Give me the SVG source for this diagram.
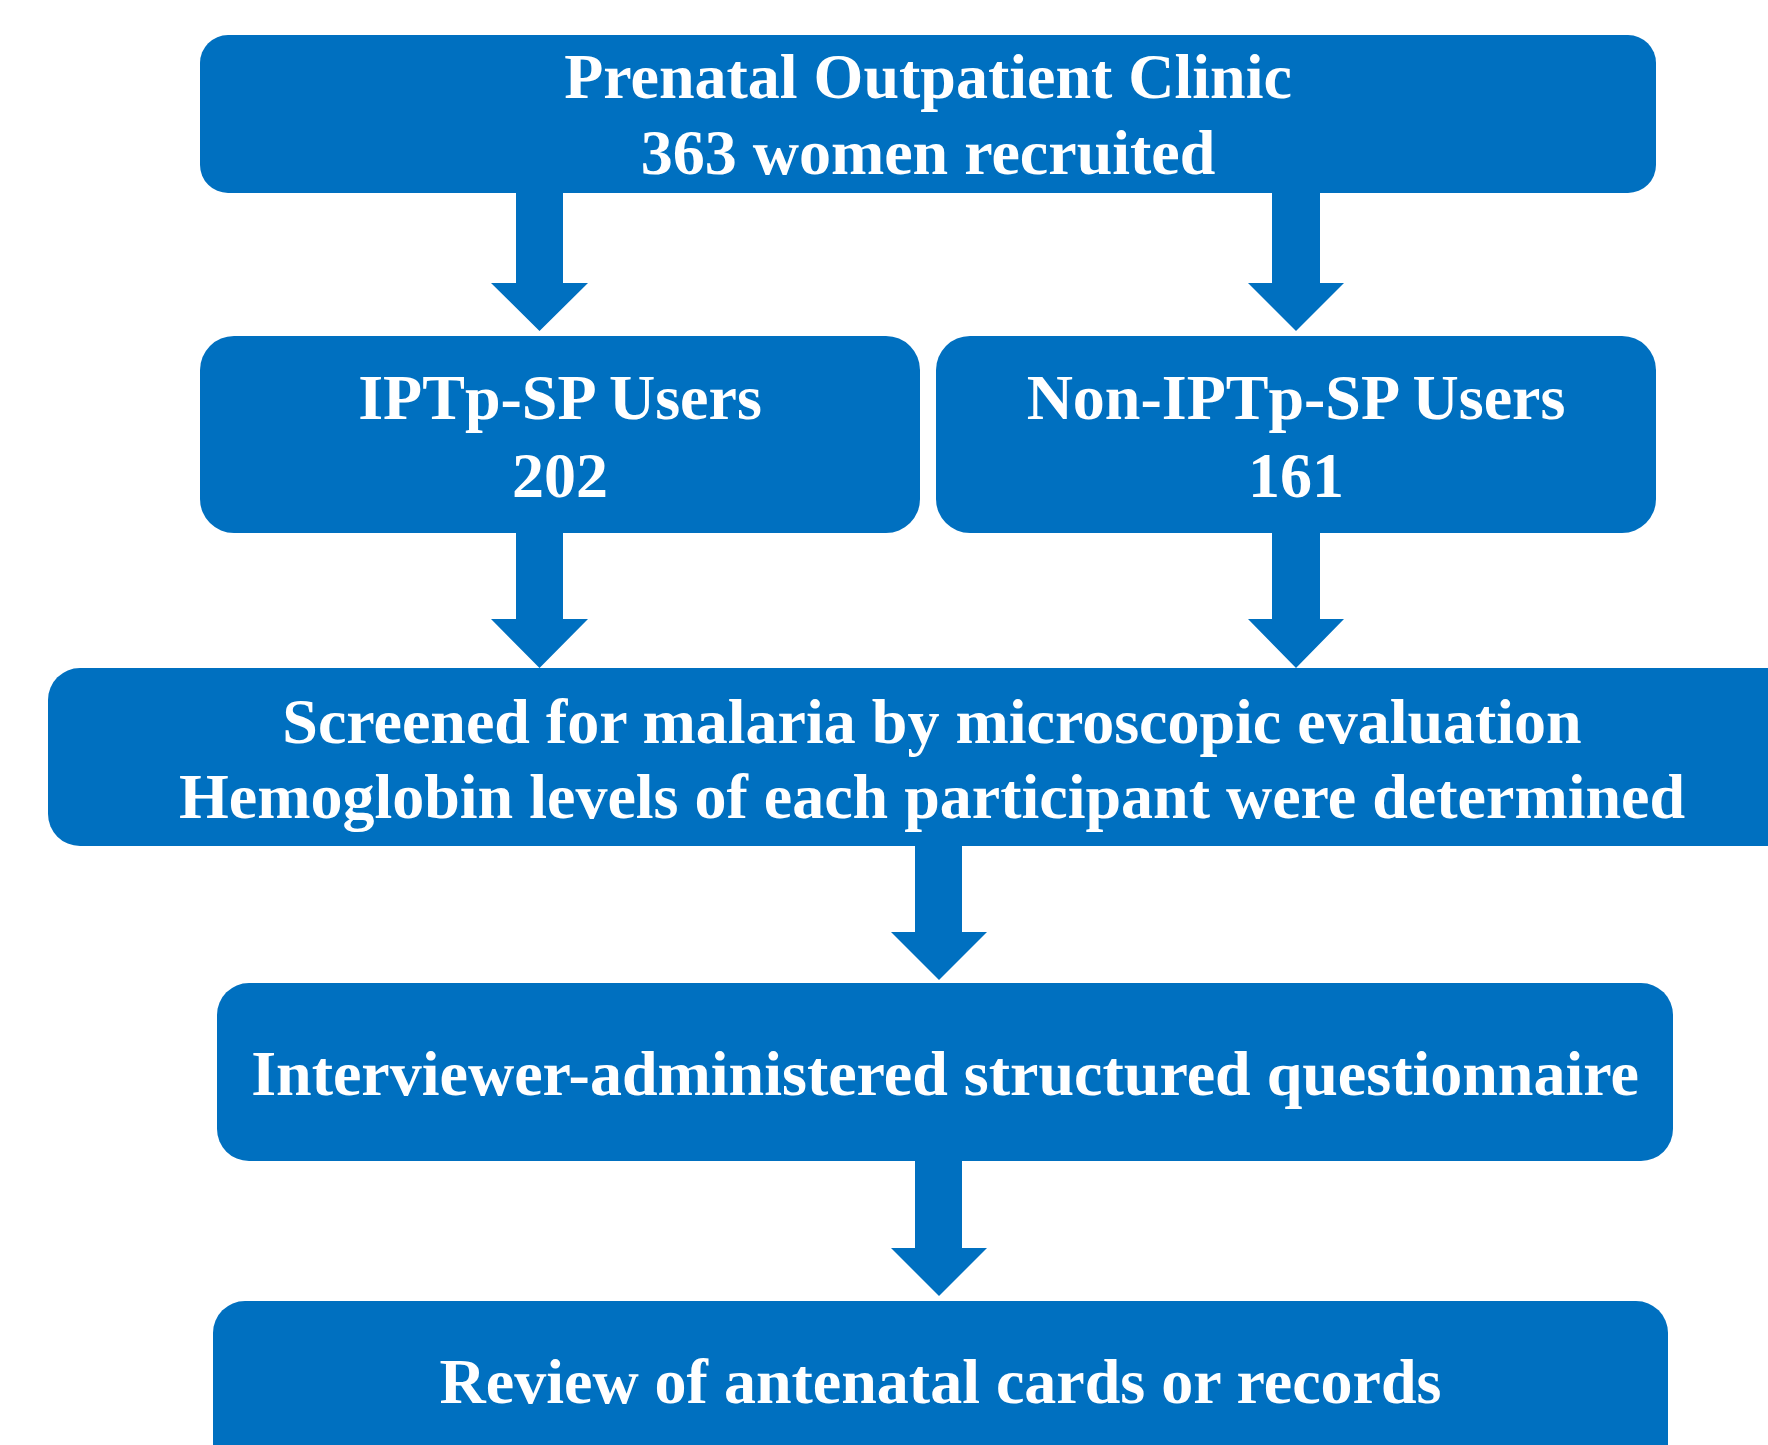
<svg xmlns="http://www.w3.org/2000/svg" width="1768" height="1445" viewBox="0 0 1768 1445">
<style>
.box{fill:#0070C0}
.arrow{fill:#0070C0}
.t{font-family:"Liberation Serif","Times New Roman",serif;font-weight:bold;font-size:64px;fill:#FFFFFF;text-anchor:middle}
</style>
<rect width="1768" height="1445" fill="#FFFFFF"/>
<g id="connectors">
<path class="arrow" d="M516,193 H563 V283 H588 L539.5,331 L491,283 H516 Z"/>
<path class="arrow" d="M1272,193 H1320 V283 H1344 L1296,331 L1248,283 H1272 Z"/>
<path class="arrow" d="M516,533 H563 V619 H588 L539.5,668 L491,619 H516 Z"/>
<path class="arrow" d="M1272,533 H1320 V619 H1344 L1296,668 L1248,619 H1272 Z"/>
<path class="arrow" d="M915,846 H962 V932 H987 L939,980 L891,932 H915 Z"/>
<path class="arrow" d="M915,1161 H962 V1248 H987 L939,1296 L891,1248 H915 Z"/>
</g>
<g id="node-clinic">
<rect class="box" x="200" y="35" width="1456" height="158" rx="28" ry="28"/>
<text class="t" x="928" y="98">Prenatal Outpatient Clinic</text>
<text class="t" x="928" y="174">363 women recruited</text>
</g>
<g id="node-iptp">
<rect class="box" x="200" y="336" width="720" height="197" rx="34" ry="34"/>
<text class="t" x="560" y="419">IPTp-SP Users</text>
<text class="t" x="560" y="497">202</text>
</g>
<g id="node-non-iptp">
<rect class="box" x="936" y="336" width="720" height="197" rx="34" ry="34"/>
<text class="t" x="1296" y="419">Non-IPTp-SP Users</text>
<text class="t" x="1296" y="497">161</text>
</g>
<g id="node-screened">
<rect class="box" x="48" y="668" width="1768" height="178" rx="32" ry="32"/>
<text class="t" x="932" y="743">Screened for malaria by microscopic evaluation</text>
<text class="t" x="932" y="818">Hemoglobin levels of each participant were determined</text>
</g>
<g id="node-questionnaire">
<rect class="box" x="217" y="983" width="1456" height="178" rx="32" ry="32"/>
<text class="t" x="945" y="1095">Interviewer-administered structured questionnaire</text>
</g>
<g id="node-review">
<rect class="box" x="213" y="1301" width="1455" height="178" rx="32" ry="32"/>
<text class="t" x="940.5" y="1403">Review of antenatal cards or records</text>
</g>
</svg>
